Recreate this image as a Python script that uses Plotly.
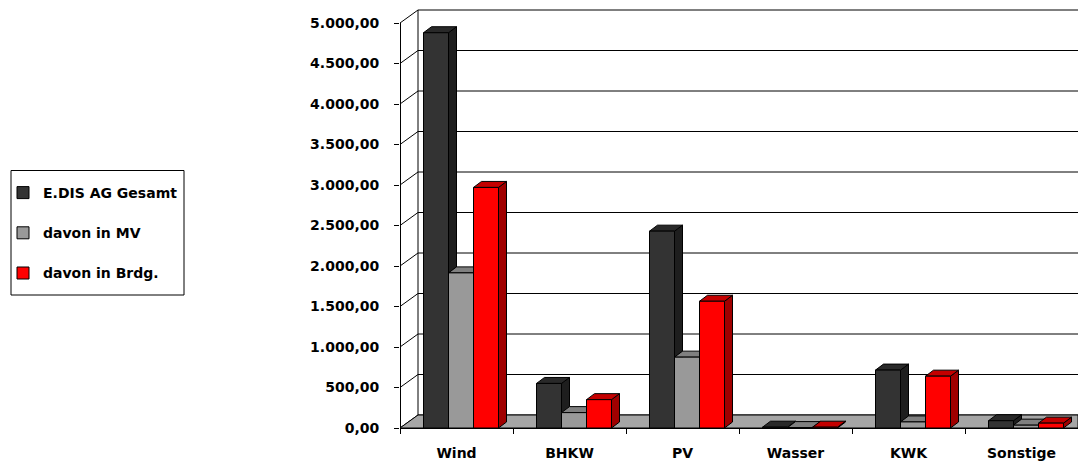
import plotly.graph_objects as go

# ---------------- data ----------------
categories = ["Wind", "BHKW", "PV", "Wasser", "KWK", "Sonstige"]
series_names = ["E.DIS AG Gesamt", "davon in MV", "davon in Brdg."]
gesamt = [4880, 550, 2430, 10, 715, 90]
mv = [1915, 190, 875, 5, 75, 35]
brdg = [2970, 350, 1565, 10, 640, 60]
y_tick_values = [0, 500, 1000, 1500, 2000, 2500, 3000, 3500, 4000, 4500, 5000]

# ---------------- style / geometry (pixels) ----------------
W, H = 1078, 462
ML, MR, MT, MB = 400, 0, 8, 34
plot_w = W - ML - MR
plot_h = H - MT - MB
x_lo, x_hi = -0.5, 5.5
y_lo = 0
y_hi = 5000 + (23 - MT) / (405 / 5000)       # 5000 sits at 23 px
px_x = (x_hi - x_lo) / plot_w                  # data units per px (x)
px_y = (y_hi - y_lo) / plot_h                  # data units per px (y)

front_colors = ["#333333", "#999999", "#ff0000"]
side_colors = ["#1e1e1e", "#6e6e6e", "#a00000"]
top_colors = ["#292929", "#808080", "#c40000"]
bar_left_px = [-33, -8, 17]
bar_w_px = 25
bar_dx, bar_dy = 8 * px_x, 6 * px_y
wall_dx, wall_dy = 18 * px_x, 13 * px_y

FONT = "DejaVu Sans"

fig = go.Figure()
shapes = []

# back wall gridlines and side diagonals
for v in y_tick_values:
    shapes.append(dict(type="line", xref="x", yref="y", layer="below",
                       x0=x_lo + wall_dx, x1=x_hi, y0=v + wall_dy, y1=v + wall_dy,
                       line=dict(color="#000000", width=1)))
    shapes.append(dict(type="line", xref="x", yref="y", layer="below",
                       x0=x_lo, x1=x_lo + wall_dx, y0=v, y1=v + wall_dy,
                       line=dict(color="#000000", width=1)))
# back wall left edge
shapes.append(dict(type="line", xref="x", yref="y", layer="below",
                   x0=x_lo + wall_dx, x1=x_lo + wall_dx,
                   y0=wall_dy, y1=y_tick_values[-1] + wall_dy,
                   line=dict(color="#000000", width=1)))
# floor
shapes.append(dict(type="path", xref="x", yref="y", layer="below",
                   path=f"M {x_lo},0 L {x_lo + wall_dx},{wall_dy} L {x_hi},{wall_dy} L {x_hi},0 Z",
                   fillcolor="#a6a6a6", line=dict(color="#000000", width=1)))
# front y axis line
shapes.append(dict(type="line", xref="x", yref="y", layer="above",
                   x0=x_lo + 0.5 * px_x, x1=x_lo + 0.5 * px_x, y0=0, y1=y_tick_values[-1],
                   line=dict(color="#000000", width=1)))

series = [gesamt, mv, brdg]
x_idx = list(range(len(categories)))
for s, (name, vals) in enumerate(zip(series_names, series)):
    off = bar_left_px[s] * px_x
    bw = bar_w_px * px_x
    fig.add_trace(go.Bar(
        x=x_idx, y=vals, name=name, offset=off, width=bw,
        marker=dict(color=front_colors[s], line=dict(color="#000000", width=1)),
        legendgroup=name,
    ))
    for i, v in enumerate(vals):
        x0 = i + off
        x1 = x0 + bw
        # side face
        shapes.append(dict(type="path", xref="x", yref="y", layer="below",
                           path=f"M {x1},0 L {x1 + bar_dx},{bar_dy} L {x1 + bar_dx},{v + bar_dy} L {x1},{v} Z",
                           fillcolor=side_colors[s], line=dict(color="#000000", width=1)))
        # top face
        shapes.append(dict(type="path", xref="x", yref="y", layer="below",
                           path=f"M {x0},{v} L {x0 + bar_dx},{v + bar_dy} L {x1 + bar_dx},{v + bar_dy} L {x1},{v} Z",
                           fillcolor=top_colors[s], line=dict(color="#000000", width=1)))

# legend frame (paper coords)
def paper_x(px):
    return (px - ML) / plot_w

def paper_y(py):
    return (H - MB - py) / plot_h

shapes.append(dict(type="rect", xref="paper", yref="paper",
                   x0=paper_x(11), x1=paper_x(184), y0=paper_y(295), y1=paper_y(170.5),
                   line=dict(color="#000000", width=1), fillcolor="rgba(0,0,0,0)"))

fig.update_layout(
    width=W, height=H,
    margin=dict(l=ML, r=MR, t=MT, b=MB),
    paper_bgcolor="#ffffff", plot_bgcolor="#ffffff",
    separators=",.",
    barmode="overlay",
    font=dict(family=FONT, size=14, color="#000000", weight="bold"),
    shapes=shapes,
    showlegend=True,
    legend=dict(xref="container", yref="container", x=3 / W, y=1 - 177 / H,
                xanchor="left", yanchor="top", traceorder="grouped",
                tracegroupgap=19, bgcolor="rgba(0,0,0,0)", borderwidth=0,
                font=dict(family=FONT, size=14, color="#000000", weight="bold")),
    xaxis=dict(range=[x_lo, x_hi], tickmode="array", tickvals=x_idx, ticktext=categories,
               showgrid=False, zeroline=False, showline=True, linecolor="#000000", linewidth=1,
               ticks="", ticklabelstandoff=12,
               minor=dict(tickmode="linear", tick0=0.5, dtick=1, ticks="outside",
                          ticklen=5, tickcolor="#000000", showgrid=False),
               fixedrange=True),
    yaxis=dict(range=[y_lo, y_hi], tickmode="array", tickvals=y_tick_values,
               tickformat=",.2f", showgrid=False, zeroline=False, showline=False,
               ticks="outside", ticklen=5, tickcolor="#000000", ticklabelstandoff=12,
               fixedrange=True),
)

fig.write_html("out.html", config={"displayModeBar": False},
               post_script="document.body.style.margin='0';document.body.style.overflow='hidden';")
